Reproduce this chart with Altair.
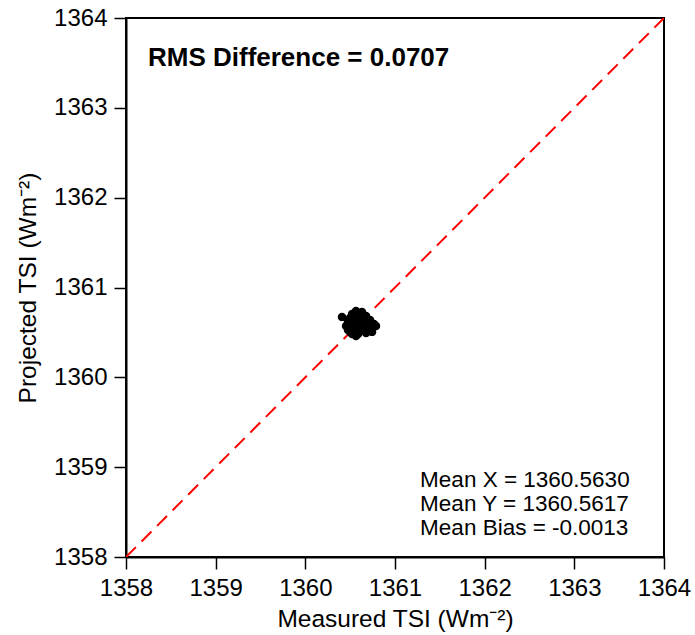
import altair as alt
import pandas as pd

# Scatter cluster (Measured vs Projected TSI)
measured = [1360.565, 1360.632, 1360.521, 1360.677, 1360.498, 1360.588, 1360.722, 1360.476,
            1360.565, 1360.655, 1360.766, 1360.498, 1360.588, 1360.677, 1360.788, 1360.476,
            1360.543, 1360.632, 1360.722, 1360.521, 1360.588, 1360.677, 1360.744, 1360.565,
            1360.498, 1360.610, 1360.699, 1360.632, 1360.543, 1360.454, 1360.409,
            1360.610, 1360.543, 1360.655, 1360.588]
projected = [1360.739, 1360.728, 1360.706, 1360.684, 1360.661, 1360.661, 1360.639, 1360.617,
             1360.617, 1360.617, 1360.595, 1360.572, 1360.572, 1360.572, 1360.572, 1360.528,
             1360.528, 1360.528, 1360.528, 1360.483, 1360.483, 1360.494, 1360.506, 1360.461,
             1360.506, 1360.639, 1360.595, 1360.550, 1360.595, 1360.572, 1360.673,
             1360.700, 1360.660, 1360.560, 1360.500]

line_x = [1358, 1364]
line_y = [1358, 1364]

ticks = [1358, 1359, 1360, 1361, 1362, 1363, 1364]

rms_label = ["RMS Difference = 0.0707"]
rms_x = [1358.245]
rms_y = [1363.55]

stat_labels = ["Mean X = 1360.5630", "Mean Y = 1360.5617", "Mean Bias = -0.0013"]
stat_x = [1361.28, 1361.28, 1361.28]
stat_y = [1358.86, 1358.59, 1358.32]

FONT = "Liberation Sans"

pts = pd.DataFrame({"x": measured, "y": projected})
ln = pd.DataFrame({"x": line_x, "y": line_y})
rms = pd.DataFrame({"x": rms_x, "y": rms_y, "t": rms_label})
st = pd.DataFrame({"x": stat_x, "y": stat_y, "t": stat_labels})

xs = alt.Scale(domain=[1358, 1364], nice=False, zero=False)
ys = alt.Scale(domain=[1358, 1364], nice=False, zero=False)

common = dict(values=ticks, format="d", grid=False, tickSize=12, tickWidth=1.5,
              tickColor="black", domainColor="black", domainWidth=2,
              labelFont=FONT, labelFontSize=24, labelColor="black", labelFlush=False,
              labelOverlap=False,
              titleFont=FONT, titleFontSize=24.5, titleFontWeight="normal", titleColor="black")

xaxis = alt.Axis(title="Measured TSI (Wm⁻²)", labelPadding=7, titlePadding=7, **common)
yaxis = alt.Axis(title="Projected TSI (Wm⁻²)", labelPadding=7, titlePadding=13, **common)

line = alt.Chart(ln).mark_line(color="#ff0000", strokeWidth=2, strokeDash=[14, 8], clip=True).encode(
    x=alt.X("x:Q", scale=xs, axis=xaxis),
    y=alt.Y("y:Q", scale=ys, axis=yaxis),
)

points = alt.Chart(pts).mark_circle(color="black", opacity=1, size=72).encode(
    x=alt.X("x:Q", scale=xs),
    y=alt.Y("y:Q", scale=ys),
)

rms_text = alt.Chart(rms).mark_text(align="left", baseline="middle", font=FONT, fontSize=26,
                                     fontWeight="bold", color="black").encode(
    x=alt.X("x:Q", scale=xs), y=alt.Y("y:Q", scale=ys), text="t:N")

stat_text = alt.Chart(st).mark_text(align="left", baseline="middle", font=FONT, fontSize=22.5,
                                     color="black").encode(
    x=alt.X("x:Q", scale=xs), y=alt.Y("y:Q", scale=ys), text="t:N")

chart = alt.layer(line, points, rms_text, stat_text).properties(
    width=538, height=539,
    autosize=alt.AutoSizeParams(type="none"),
    padding={"left": 126, "top": 18, "right": 31, "bottom": 78},
    background="white",
).configure_view(
    stroke="black", strokeWidth=2
)

chart.save("out.html", embed_options={"renderer": "svg", "actions": False})
